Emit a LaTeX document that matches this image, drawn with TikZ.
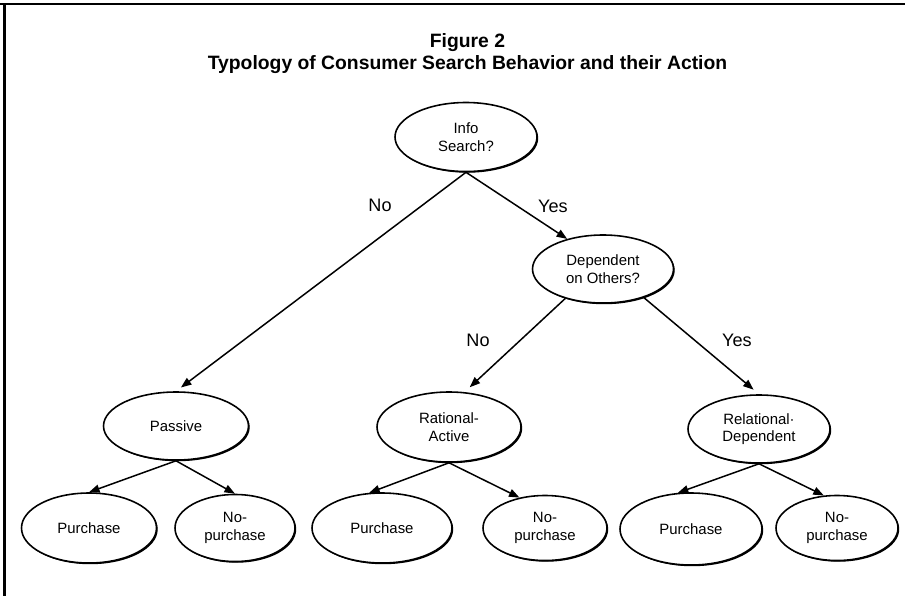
\documentclass[tikz,border=0pt]{standalone}
\usepackage{fontspec}
\setmainfont{Liberation Sans}
\usetikzlibrary{arrows.meta,shapes.geometric,shadows}

\begin{document}
\begin{tikzpicture}[
    choice/.style={ellipse, draw, line width=0.9pt, fill=white, inner sep=0pt,
      minimum width=2.84cm, minimum height=1.38cm, align=center,
      font=\fontsize{8.5}{10}\selectfont,
      drop shadow={shadow xshift=0.7pt, shadow yshift=-0.7pt, fill=black, opacity=1}},
    branch/.style={line width=0.85pt, -{Triangle[length=6pt,width=4.5pt]}},
    answer/.style={font=\fontsize{10.3}{12}\selectfont}
  ]

        % page frame (only top and left edges show)
        \useasboundingbox (0,0) rectangle (18.1,-11.92);
        \draw[line width=1.6pt] (0,-0.08) -- (18.1,-0.08);
        \draw[line width=1.6pt] (0.09,-0.08) -- (0.09,-11.92);

        % title
        \node[align=center, font=\bfseries\fontsize{11}{12.5}\selectfont] (title) at (9.35,-1.08)
          {Figure 2\\Typology of Consumer Search Behavior and their Action};

        % decision nodes
        \node[choice] (info) at (9.32,-2.74) {Info\\Search?};
        \node[choice, minimum width=2.82cm, minimum height=1.36cm] (dep) at (12.06,-5.38) {Dependent\\on Others?};

        % consumer types
        \node[choice, minimum width=2.9cm, minimum height=1.36cm] (pas) at (3.52,-8.52) {Passive};
        \node[choice, minimum width=2.88cm, minimum height=1.4cm] (rat) at (8.98,-8.54) {Rational-\\Active};
        \node[choice, minimum width=2.84cm, minimum height=1.36cm] (rel) at (15.18,-8.58) {Relational·\\Dependent};

        % actions
        \node[choice, minimum width=2.7cm, minimum height=1.4cm] (pur1) at (1.78,-10.56) {Purchase};
        \node[choice, minimum width=2.4cm, minimum height=1.34cm] (nop1) at (4.7,-10.56) {No-\\purchase};
        \node[choice, minimum width=2.8cm, minimum height=1.4cm] (pur2) at (7.64,-10.56) {Purchase};
        \node[choice, minimum width=2.48cm, minimum height=1.3cm] (nop2) at (10.9,-10.56) {No-\\purchase};
        \node[choice, minimum width=2.84cm, minimum height=1.44cm] (pur3) at (13.82,-10.58) {Purchase};
        \node[choice, minimum width=2.44cm, minimum height=1.3cm] (nop3) at (16.74,-10.56) {No-\\purchase};

        % branches
        \draw[branch, shorten >=3.5pt] (info.south) -- (pas.north);
        \draw[branch] (info.south) -- (dep.140);
        \draw[branch, shorten >=4pt] (dep.218) -- (rat.66);
        \draw[branch, shorten >=4pt] (dep.-35) -- (rel.north);
        \draw[branch] (pas.south) -- (pur1.north);
        \draw[branch] (pas.south) -- (nop1.north);
        \draw[branch] (rat.south) -- (pur2.110);
        \draw[branch] (rat.south) -- (nop2.130);
        \draw[branch] (rel.south) -- (pur3.110);
        \draw[branch] (rel.south) -- (nop3.112);

        % branch labels
        \node[answer] (no1) at (7.6,-4.1) {No};
        \node[answer] (yes1) at (11.06,-4.12) {Yes};
        \node[answer] (no2) at (9.56,-6.8) {No};
        \node[answer] (yes2) at (14.74,-6.8) {Yes};
\end{tikzpicture}
\end{document}
